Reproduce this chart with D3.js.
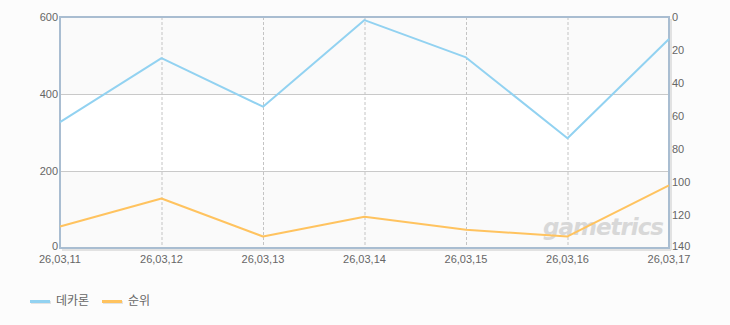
<!DOCTYPE html>
<html><head><meta charset="utf-8">
<script src="https://cdn.jsdelivr.net/npm/d3@7"></script>
<style>
html,body{margin:0;padding:0;background:#fcfcfc;}
text{font-family:"Liberation Sans","Noto Sans CJK KR",sans-serif;}
</style></head>
<body>
<svg id="c" width="730" height="325"></svg>
<script>
const categories = ["26,03,11","26,03,12","26,03,13","26,03,14","26,03,15","26,03,16","26,03,17"];
const seriesNames = ["데카론","순위"];
const users = [327, 493, 367, 592, 495, 285, 543];
const ranks = [127, 110, 133, 121, 129, 133, 102];
const leftTicks = [0, 200, 400, 600];
const rightTicks = [0, 20, 40, 60, 80, 100, 120, 140];
const colors = ["#92d2f1", "#ffc35f"];

const svg = d3.select("#c");
const L = 60, R = 669, T = 17, B = 248;
const x = d3.scalePoint().domain(categories).range([L, R]);
const yL = d3.scaleLinear().domain([0, 600]).range([B, T]);
const yR = d3.scaleLinear().domain([0, 140]).range([T, B]);

// bands
const bands = [[400,600,"#fafafa"],[200,400,"#ffffff"],[0,200,"#fafafa"]];
svg.selectAll("rect.band").data(bands).enter().append("rect")
  .attr("x", L).attr("width", R - L)
  .attr("y", d => yL(d[1])).attr("height", d => yL(d[0]) - yL(d[1]))
  .attr("fill", d => d[2]);

// horizontal grid
svg.selectAll("line.hg").data([200, 400]).enter().append("line")
  .attr("x1", L).attr("x2", R).attr("y1", d => yL(d)).attr("y2", d => yL(d))
  .attr("stroke", "#c9c9c9").attr("stroke-width", 1).attr("shape-rendering","crispEdges");

// vertical dashed grid
svg.selectAll("line.vg").data(categories.slice(1, -1)).enter().append("line")
  .attr("x1", d => x(d) + 0.5).attr("x2", d => x(d) + 0.5).attr("y1", T).attr("y2", B)
  .attr("stroke", "#c4c4c4").attr("stroke-width", 1).attr("stroke-dasharray", "3,2");

// watermark
svg.append("text").attr("x", 603).attr("y", 235).attr("text-anchor", "middle")
  .attr("font-size", 23).attr("font-weight", "bold").attr("font-style", "italic")
  .attr("fill", "#d8d8d8").attr("letter-spacing", -1).style("font-family", "'DejaVu Sans',sans-serif")
  .text("gametrics");

// shadow on right/bottom
svg.append("line").attr("x1", R + 2).attr("x2", R + 2).attr("y1", T + 2).attr("y2", B + 2)
  .attr("stroke", "#e2e2e2").attr("stroke-width", 2);
svg.append("line").attr("x1", L + 2).attr("x2", R + 2).attr("y1", B + 2).attr("y2", B + 2)
  .attr("stroke", "#e2e2e2").attr("stroke-width", 2);

// frame
svg.append("rect").attr("x", L).attr("y", T).attr("width", R - L).attr("height", B - T)
  .attr("fill", "none").attr("stroke", "#a9bdd1").attr("stroke-width", 2);

// lines
const lineL = d3.line().x((d, i) => x(categories[i])).y(d => yL(d));
const lineR = d3.line().x((d, i) => x(categories[i])).y(d => yR(d));
svg.append("path").datum(users).attr("d", lineL).attr("fill", "none")
  .attr("stroke", colors[0]).attr("stroke-width", 2).attr("stroke-linejoin", "round");
svg.append("path").datum(ranks).attr("d", lineR).attr("fill", "none")
  .attr("stroke", colors[1]).attr("stroke-width", 2).attr("stroke-linejoin", "round");

// axes labels
const axisColor = "#666";
svg.selectAll("text.yl").data(leftTicks).enter().append("text")
  .attr("x", L - 2).attr("y", d => yL(d) + (d === 0 ? 2 : 4)).attr("text-anchor", "end")
  .attr("font-size", 11).attr("fill", axisColor).text(d => d);
svg.selectAll("text.yr").data(rightTicks).enter().append("text")
  .attr("x", R + 3).attr("y", d => yR(d) + (d === 140 ? 2 : 4)).attr("text-anchor", "start")
  .attr("font-size", 11).attr("fill", axisColor).text(d => d);
svg.selectAll("text.xl").data(categories).enter().append("text")
  .attr("x", d => x(d)).attr("y", B + 15).attr("text-anchor", "middle")
  .attr("font-size", 11).attr("fill", axisColor).text(d => d);

// legend
const leg = [{x: 30, name: seriesNames[0], c: colors[0]}, {x: 102, name: seriesNames[1], c: colors[1]}];
leg.forEach(l => {
  svg.append("rect").attr("x", l.x + 1).attr("y", 301).attr("width", 20).attr("height", 3).attr("fill", "#e3e3e3");
  svg.append("rect").attr("x", l.x).attr("y", 300).attr("width", 20).attr("height", 3).attr("fill", l.c);
  svg.append("text").attr("x", l.x + 26).attr("y", 305).attr("font-size", 12).attr("fill", "#666")
    .style("font-family", "'Noto Sans CJK KR',sans-serif").text(l.name);
});
</script>
</body></html>
